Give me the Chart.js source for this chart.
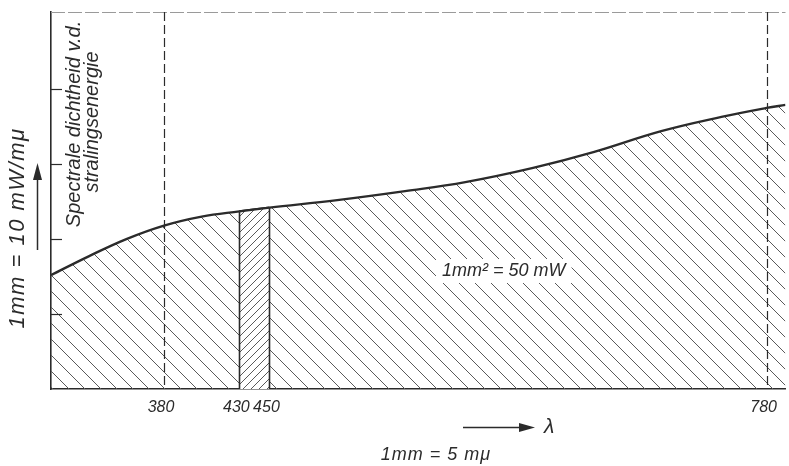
<!DOCTYPE html>
<html>
<head>
<meta charset="utf-8">
<title>Spectrale dichtheid v.d. stralingsenergie</title>
<script src="https://cdn.jsdelivr.net/npm/chart.js@4/dist/chart.umd.min.js"></script>
<style>
  html, body { margin: 0; padding: 0; background: #fff; }
  #wrap { position: relative; width: 789px; height: 466px; }
</style>
</head>
<body>
<div id="wrap"><canvas id="chart" width="789" height="466"></canvas></div>
<script>
// --- data ---
const lambdas   = [305, 330, 355, 380, 405, 430, 450, 495, 540, 580, 625, 665, 710, 750, 780, 792.5];
const density   = [1.52, 1.77, 2.00, 2.18, 2.30, 2.37, 2.42, 2.52, 2.64, 2.76, 2.95, 3.16, 3.44, 3.63, 3.75, 3.79];
const xTicks    = [380, 430, 450, 780];
const dashedAt  = [380, 780];     // visible range limits
const bandRange = [430, 450];     // the cross-hatched strip
const yTicks    = [1, 2, 3, 4];

const INK = '#2b2b2b';
const HATCH = '#5a5a5a';
const FONT = '"Liberation Sans", "DejaVu Sans", sans-serif';

const points = lambdas.map((l, i) => ({ x: l, y: density[i] }));
const bandPoints = points.filter(p => p.x >= bandRange[0] && p.x <= bandRange[1]);

function valueAt(l) {
  const i = lambdas.indexOf(l);
  return i >= 0 ? density[i] : null;
}

// hatch pattern: dir 1 = "\" , dir -1 = "/"
function makeHatch(ctx, size, dir, bg) {
  const c = document.createElement('canvas');
  c.width = size; c.height = size;
  const g = c.getContext('2d');
  if (bg) { g.fillStyle = bg; g.fillRect(0, 0, size, size); }
  g.strokeStyle = HATCH;
  g.lineWidth = 1;
  for (let k = -1; k <= 1; k++) {
    g.beginPath();
    if (dir > 0) {
      g.moveTo(k * size, 0);
      g.lineTo(k * size + size, size);
    } else {
      g.moveTo(k * size, size);
      g.lineTo(k * size + size, 0);
    }
    g.stroke();
  }
  return ctx.createPattern(c, 'repeat');
}

const canvas = document.getElementById('chart');
const ctx0 = canvas.getContext('2d');
const mainHatch = makeHatch(ctx0, 16, 1, null);
const bandHatch = makeHatch(ctx0, 8, -1, '#ffffff');

const decor = {
  id: 'decor',
  afterDatasetsDraw(chart) {
    const { ctx, chartArea: a, scales: { x, y } } = chart;
    ctx.save();

    // top border (dashed, faint)
    ctx.strokeStyle = '#9a9a9a';
    ctx.lineWidth = 1;
    ctx.setLineDash([14, 3]);
    ctx.beginPath();
    ctx.moveTo(a.left, a.top + 0.5);
    ctx.lineTo(a.right, a.top + 0.5);
    ctx.stroke();

    // dashed verticals
    ctx.strokeStyle = INK;
    ctx.lineWidth = 1.2;
    ctx.setLineDash([9, 4]);
    dashedAt.forEach(v => {
      const px = Math.round(x.getPixelForValue(v)) + 0.5;
      ctx.beginPath();
      ctx.moveTo(px, a.top);
      ctx.lineTo(px, a.bottom);
      ctx.stroke();
    });

    // solid verticals bounding the strip
    ctx.setLineDash([]);
    ctx.lineWidth = 1.6;
    bandRange.forEach(v => {
      const px = Math.round(x.getPixelForValue(v)) + 0.5;
      ctx.beginPath();
      ctx.moveTo(px, y.getPixelForValue(valueAt(v)));
      ctx.lineTo(px, a.bottom);
      ctx.stroke();
    });

    // short y ticks on the inside of the axis
    ctx.lineWidth = 1.2;
    yTicks.forEach(v => {
      const py = Math.round(y.getPixelForValue(v)) + 0.5;
      ctx.beginPath();
      ctx.moveTo(a.left, py);
      ctx.lineTo(a.left + 11, py);
      ctx.stroke();
    });

    // area label with a white gap in the hatching
    ctx.font = 'italic 18px ' + FONT;
    ctx.textBaseline = 'middle';
    ctx.textAlign = 'left';
    const label = '1mm² = 50 mW';
    const w = ctx.measureText(label).width;
    ctx.fillStyle = '#fff';
    ctx.fillRect(436, 259, w + 12, 24);
    ctx.fillStyle = INK;
    ctx.fillText(label, 442, 271);

    // rotated quantity name inside the plot
    ctx.save();
    ctx.translate(74, 124);
    ctx.rotate(-Math.PI / 2);
    ctx.textAlign = 'center';
    ctx.font = 'italic 20px ' + FONT;
    ctx.fillText('Spectrale dichtheid v.d.', 0, 0);
    ctx.fillText('stralingsenergie', 2, 18);
    ctx.restore();

    // y scale note with arrow
    ctx.save();
    ctx.translate(18, 228);
    ctx.rotate(-Math.PI / 2);
    ctx.textAlign = 'center';
    ctx.font = 'italic 22px ' + FONT;
    ctx.letterSpacing = '1.5px';
    ctx.fillText('1mm = 10 mW/mμ', 0, 0);
    ctx.restore();

    ctx.strokeStyle = INK;
    ctx.lineWidth = 1.5;
    ctx.beginPath();
    ctx.moveTo(37.5, 250);
    ctx.lineTo(37.5, 176);
    ctx.stroke();
    ctx.fillStyle = INK;
    ctx.beginPath();
    ctx.moveTo(37.5, 163);
    ctx.lineTo(33, 180);
    ctx.lineTo(42, 180);
    ctx.closePath();
    ctx.fill();

    // x scale note with arrow
    ctx.beginPath();
    ctx.moveTo(463, 427.5);
    ctx.lineTo(522, 427.5);
    ctx.stroke();
    ctx.beginPath();
    ctx.moveTo(535, 427.5);
    ctx.lineTo(519, 423);
    ctx.lineTo(519, 432);
    ctx.closePath();
    ctx.fill();
    ctx.font = 'italic 21px ' + FONT;
    ctx.textAlign = 'left';
    ctx.fillText('λ', 544, 427);
    ctx.font = 'italic 18px ' + FONT;
    ctx.letterSpacing = '1px';
    ctx.textAlign = 'center';
    ctx.fillText('1mm = 5 mμ', 436, 455);

    ctx.restore();
  }
};

new Chart(canvas, {
  type: 'line',
  data: {
    datasets: [
      {
        label: '430–450',
        data: bandPoints,
        order: 0,
        fill: 'origin',
        backgroundColor: bandHatch,
        borderColor: INK,
        borderWidth: 2.4,
        pointRadius: 0,
      },
      {
        label: 'Spectrale dichtheid',
        data: points,
        order: 1,
        fill: 'origin',
        backgroundColor: mainHatch,
        borderColor: INK,
        borderWidth: 2.4,
        tension: 0.4,
        pointRadius: 0,
      }
    ]
  },
  options: {
    responsive: false,
    animation: false,
    events: [],
    layout: { padding: { top: 12, right: 0, left: 0, bottom: 0 } },
    plugins: { legend: { display: false }, tooltip: { enabled: false } },
    scales: {
      x: {
        type: 'linear',
        min: 305,
        max: 792.5,
        afterBuildTicks: s => { s.ticks = xTicks.map(v => ({ value: v })); },
        afterFit: s => { s.height = 77; },
        grid: { display: false, drawTicks: false },
        border: { display: true, color: INK, width: 1.6 },
        ticks: {
          autoSkip: false,
          maxRotation: 0,
          padding: 9,
          labelOffset: -3,
          color: INK,
          font: { family: FONT, size: 16, style: 'italic' }
        }
      },
      y: {
        min: 0,
        max: 5.03,
        afterFit: s => { s.width = 51; },
        grid: { display: false, drawTicks: false },
        border: { display: true, color: INK, width: 1.6 },
        ticks: { display: false, stepSize: 1 }
      }
    }
  },
  plugins: [decor]
});
</script>
</body>
</html>
